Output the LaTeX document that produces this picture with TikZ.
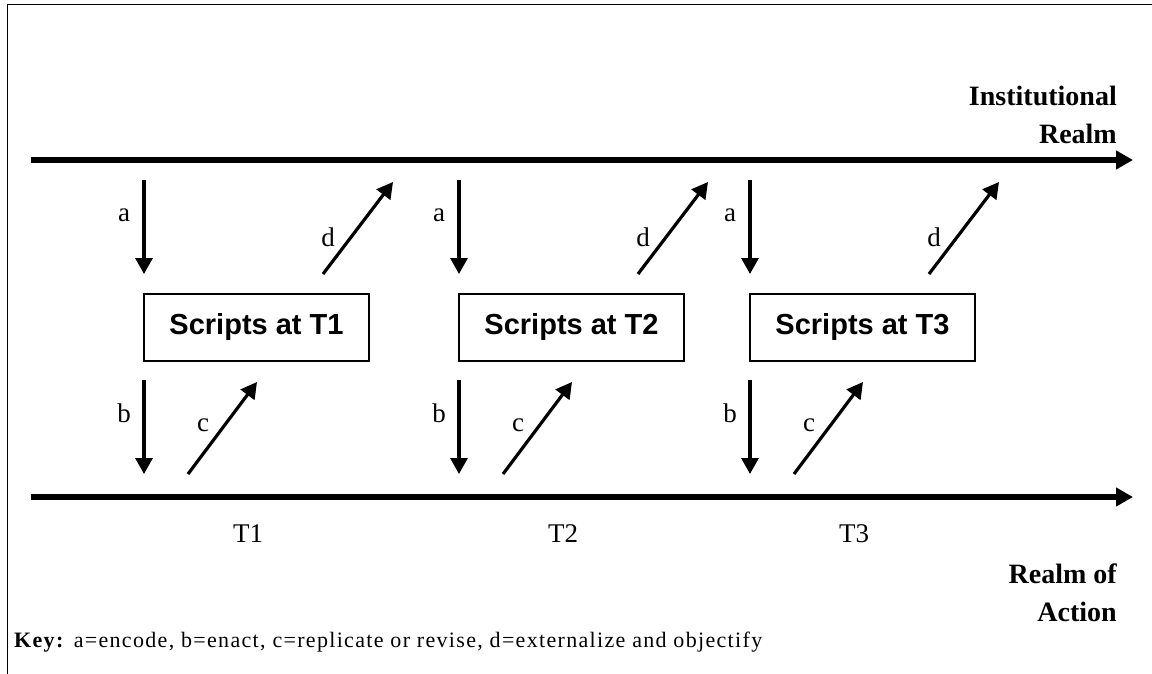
\documentclass[tikz,border=0pt]{standalone}
\usepackage{fontspec}
\setmainfont{Liberation Serif}
\newfontfamily\arialfont{Liberation Sans}
\usetikzlibrary{arrows.meta}

\begin{document}
\begin{tikzpicture}[x=1pt,y=-1pt,
    realm/.style={-{Triangle[length=17pt,width=18pt]},line width=5.5pt},
    move/.style={-{Triangle[length=16pt,width=17pt]},line width=3.2pt},
    scriptbox/.style={draw,line width=1.3pt,minimum width=225pt,minimum height=67pt,inner sep=0pt,
      font=\arialfont\bfseries\fontsize{29}{34}\selectfont},
    letter/.style={inner sep=0pt,font=\fontsize{27}{30}\selectfont},
    side/.style={inner sep=0pt,align=right,font=\bfseries\fontsize{28}{38}\selectfont}]
  \useasboundingbox (0,0) rectangle (1152,674);
  % frame
  \draw[line width=1.5pt] (7.5,674) -- (7.5,4.5) -- (1152,4.5);
  % the two realms
  \coordinate (inst west) at (31,160);
  \coordinate (inst east) at (1133,160);
  \coordinate (act west) at (31,497);
  \coordinate (act east) at (1133,497);
  \draw[realm] (inst west) -- (inst east);
  \draw[realm] (act west) -- (act east);
  % base of a two-line node is its last line
  \node[side,anchor=base east] (inst) at (1117,144) {Institutional\\Realm};
  \node[side,anchor=base east] (act) at (1117,621) {Realm of\\Action};
  % one period for each script
  \foreach \i/\dx in {1/0,2/315,3/606} {
    \node[scriptbox] (s\i) at (256.5+\dx,327.5) {Scripts at T\i};
    % a and d, up top
    \coordinate (a\i-from) at (144+\dx,180);
    \coordinate (a\i-to) at (144+\dx,274);
    \coordinate (d\i-from) at (323+\dx,274);
    \coordinate (d\i-to) at (393+\dx,182);
    \draw[move] (a\i-from) -- (a\i-to);
    \draw[move] (d\i-from) -- (d\i-to);
    \node[letter] (la\i) at (124+\dx,215) {a};
    \node[letter] (ld\i) at (328+\dx,237) {d};
    % b and c, below
    \coordinate (b\i-from) at (144+\dx,380);
    \coordinate (b\i-to) at (144+\dx,474);
    \coordinate (c\i-from) at (188+\dx,474);
    \coordinate (c\i-to) at (257+\dx,382);
    \draw[move] (b\i-from) -- (b\i-to);
    \draw[move] (c\i-from) -- (c\i-to);
    \node[letter] (lb\i) at (124+\dx,413) {b};
    \node[letter] (lc\i) at (203+\dx,425) {c};
    % time mark
    \node[letter,anchor=base] (t\i) at (248+\dx,542) {T\i};
  }
  \node[anchor=base west,inner sep=0pt,font=\fontsize{22}{26}\selectfont\addfontfeatures{LetterSpace=6}] (key) at (14,647)
    {\textbf{Key:} a=encode, b=enact, c=replicate or revise, d=externalize and objectify};
\end{tikzpicture}
\end{document}
